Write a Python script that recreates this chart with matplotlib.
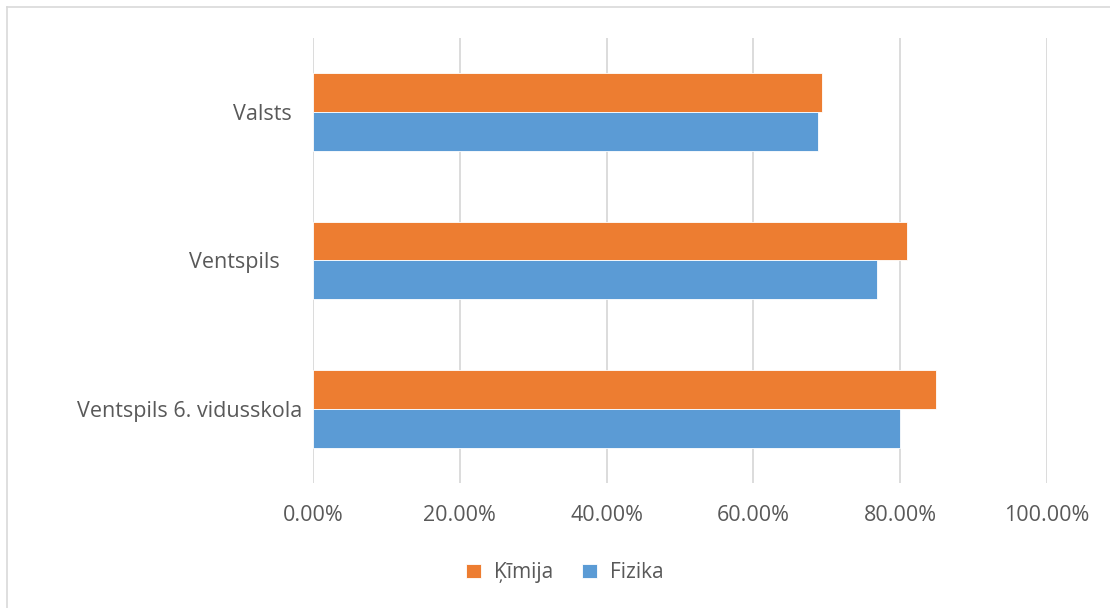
import numpy as np
import matplotlib.pyplot as plt
from matplotlib.ticker import FuncFormatter

# categories listed bottom to top
categories = ["Ventspils 6. vidusskola", "Ventspils    ", "Valsts  "]
kimija = [84.9, 81.0, 69.4]
fizika = [80.0, 76.9, 68.8]
x_ticks = [0, 20, 40, 60, 80, 100]

plt.rcParams['font.family'] = ['Open Sans', 'DejaVu Sans']

fig = plt.figure(figsize=(11.1, 6.08), dpi=100)
ax = fig.add_axes([0.282, 0.2056, 0.661, 0.732])

y = np.arange(len(categories))
h = 0.262
ax.barh(y + h / 2, kimija, height=h, color="#ED7D31", edgecolor="white", linewidth=0.6, label="Ķīmija", zorder=3)
ax.barh(y - h / 2, fizika, height=h, color="#5B9BD5", edgecolor="white", linewidth=0.6, label="Fizika", zorder=3)

ax.set_xlim(0, 100)
ax.set_ylim(-0.5, 2.5)
ax.set_xticks(x_ticks)
ax.xaxis.set_major_formatter(FuncFormatter(lambda v, p: f"{v:.2f}%"))
ax.set_yticks(y)
ax.set_yticklabels(categories)
ax.tick_params(length=0, labelsize=15.5, colors="#595959")
ax.tick_params(axis="x", pad=16)
ax.tick_params(axis="y", pad=7.5)
ax.grid(axis="x", color="#D9D9D9", linewidth=1.3, zorder=0)
for s in ax.spines.values():
    s.set_visible(False)

leg = fig.legend(loc="center", bbox_to_anchor=(0.509, 0.058), ncol=2, frameon=False,
                 fontsize=15, handlelength=0.72, handleheight=0.72, handletextpad=0.6,
                 columnspacing=1.4)
for t in leg.get_texts():
    t.set_color("#595959")

# outer chart border (top and left visible)
fig.add_artist(plt.Line2D([7 / 1110, 1.0], [1 - 7 / 608, 1 - 7 / 608], color="#D9D9D9", linewidth=1.2))
fig.add_artist(plt.Line2D([7 / 1110, 7 / 1110], [0.0, 1 - 7 / 608], color="#D9D9D9", linewidth=1.2))

fig.savefig("out.png", dpi=100)
